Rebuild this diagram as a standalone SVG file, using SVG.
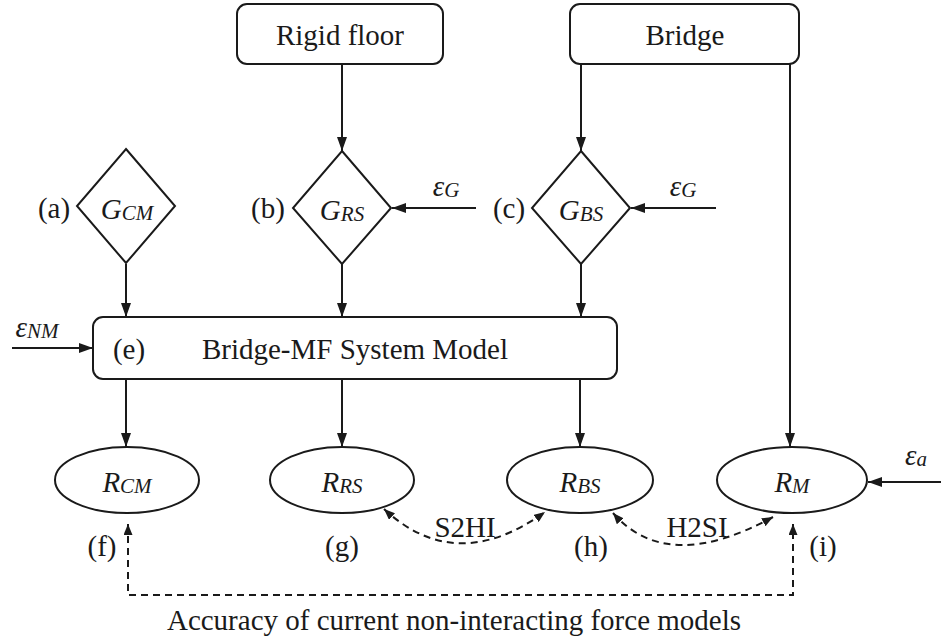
<svg xmlns="http://www.w3.org/2000/svg" width="941" height="637" viewBox="0 0 941 637">
  <style>
    .shape { fill: #fff; stroke: #1a1a1a; stroke-width: 2; }
    .line { fill: none; stroke: #1a1a1a; stroke-width: 2; }
    .dash { fill: none; stroke: #1a1a1a; stroke-width: 2; stroke-dasharray: 7 5; }
    text { font-family: "Liberation Serif", "Times New Roman", serif; fill: #1a1a1a; font-size: 29px; }
    .it { font-style: italic; }
    .sub { font-size: 21px; font-style: italic; }
  </style>
  <defs>
    <marker id="arr" viewBox="0 0 14 10" refX="14" refY="5" markerWidth="14" markerHeight="10" markerUnits="userSpaceOnUse" orient="auto">
      <path d="M0,0 L14,5 L0,10 Z" fill="#1a1a1a"/>
    </marker>
    <marker id="arrs" viewBox="0 0 11 9" refX="11" refY="4.5" markerWidth="11" markerHeight="9" markerUnits="userSpaceOnUse" orient="auto-start-reverse">
      <path d="M0,0 L11,4.5 L0,9 Z" fill="#1a1a1a"/>
    </marker>
  </defs>

  <!-- connectors -->
  <g id="connectors">
    <line class="line" x1="342" y1="64" x2="342" y2="151" marker-end="url(#arr)"/>
    <line class="line" x1="581" y1="64" x2="581" y2="151" marker-end="url(#arr)"/>
    <line class="line" x1="790" y1="64" x2="790" y2="447" marker-end="url(#arr)"/>
    <line class="line" x1="476" y1="208" x2="392" y2="208" marker-end="url(#arr)"/>
    <line class="line" x1="716" y1="208" x2="631" y2="208" marker-end="url(#arr)"/>
    <line class="line" x1="126" y1="264" x2="126" y2="317" marker-end="url(#arr)"/>
    <line class="line" x1="342" y1="264" x2="342" y2="317" marker-end="url(#arr)"/>
    <line class="line" x1="581" y1="264" x2="581" y2="317" marker-end="url(#arr)"/>
    <line class="line" x1="12" y1="348" x2="93" y2="348" marker-end="url(#arr)"/>
    <line class="line" x1="126" y1="379" x2="126" y2="447" marker-end="url(#arr)"/>
    <line class="line" x1="342" y1="379" x2="342" y2="447" marker-end="url(#arr)"/>
    <line class="line" x1="580" y1="379" x2="580" y2="447" marker-end="url(#arr)"/>
    <line class="line" x1="941" y1="482" x2="868" y2="482" marker-end="url(#arr)"/>
    <path class="dash" d="M384,509 Q456,576 545,512" marker-start="url(#arrs)" marker-end="url(#arrs)"/>
    <path class="dash" d="M613,513 Q667,575 773,517" marker-start="url(#arrs)" marker-end="url(#arrs)"/>
    <path class="dash" d="M128,524 L128,595 L793,595 L793,524" marker-start="url(#arrs)" marker-end="url(#arrs)"/>
  </g>

  <!-- source blocks -->
  <g id="rigid-floor">
    <rect class="shape" x="237" y="4" width="206" height="60" rx="10"/>
    <text x="340" y="45" text-anchor="middle">Rigid floor</text>
  </g>
  <g id="bridge">
    <rect class="shape" x="570" y="4" width="229" height="60" rx="10"/>
    <text x="685" y="45" text-anchor="middle">Bridge</text>
  </g>

  <!-- gain diamonds -->
  <g id="g-cm">
    <polygon class="shape" points="126,149 175,206 126,263 77,206"/>
    <text x="127" y="219" text-anchor="middle"><tspan class="it">G</tspan><tspan class="sub" dy="1">CM</tspan></text>
    <text x="54" y="218" text-anchor="middle">(a)</text>
  </g>
  <g id="g-rs">
    <polygon class="shape" points="342,151 391,208 342,264 293,208"/>
    <text x="342" y="220" text-anchor="middle"><tspan class="it">G</tspan><tspan class="sub" dy="1">RS</tspan></text>
    <text x="268" y="218" text-anchor="middle">(b)</text>
    <text x="446" y="196" text-anchor="middle"><tspan class="it">ε</tspan><tspan class="sub" dy="1">G</tspan></text>
  </g>
  <g id="g-bs">
    <polygon class="shape" points="581,151 630,208 581,264 532,208"/>
    <text x="581" y="220" text-anchor="middle"><tspan class="it">G</tspan><tspan class="sub" dy="1">BS</tspan></text>
    <text x="509" y="218" text-anchor="middle">(c)</text>
    <text x="683" y="196" text-anchor="middle"><tspan class="it">ε</tspan><tspan class="sub" dy="1">G</tspan></text>
  </g>

  <!-- system model -->
  <g id="system-model">
    <rect class="shape" x="93" y="317" width="524" height="62" rx="10"/>
    <text x="129" y="359" text-anchor="middle">(e)</text>
    <text x="355" y="359" text-anchor="middle">Bridge-MF System Model</text>
    <text x="37" y="337" text-anchor="middle"><tspan class="it">ε</tspan><tspan class="sub" dy="1">NM</tspan></text>
  </g>

  <!-- responses -->
  <g id="r-cm">
    <ellipse class="shape" cx="127" cy="480" rx="72" ry="33"/>
    <text x="127" y="492" text-anchor="middle"><tspan class="it">R</tspan><tspan class="sub" dy="1">CM</tspan></text>
    <text x="102" y="556" text-anchor="middle">(f)</text>
  </g>
  <g id="r-rs">
    <ellipse class="shape" cx="342" cy="480" rx="72" ry="33"/>
    <text x="342" y="492" text-anchor="middle"><tspan class="it">R</tspan><tspan class="sub" dy="1">RS</tspan></text>
    <text x="342" y="556" text-anchor="middle">(g)</text>
  </g>
  <g id="r-bs">
    <ellipse class="shape" cx="580" cy="480" rx="73" ry="33"/>
    <text x="580" y="492" text-anchor="middle"><tspan class="it">R</tspan><tspan class="sub" dy="1">BS</tspan></text>
    <text x="591" y="556" text-anchor="middle">(h)</text>
  </g>
  <g id="r-m">
    <ellipse class="shape" cx="792" cy="480" rx="75" ry="33"/>
    <text x="792" y="492" text-anchor="middle"><tspan class="it">R</tspan><tspan class="sub" dy="1">M</tspan></text>
    <text x="823" y="556" text-anchor="middle">(i)</text>
    <text x="916" y="465" text-anchor="middle"><tspan class="it">ε</tspan><tspan class="sub" dy="1">a</tspan></text>
  </g>

  <!-- comparison labels -->
  <g id="comparisons">
    <text x="465" y="537" text-anchor="middle">S2HI</text>
    <text x="697" y="537" text-anchor="middle">H2SI</text>
    <text x="454" y="630" text-anchor="middle">Accuracy of current non-interacting force models</text>
  </g>
</svg>
